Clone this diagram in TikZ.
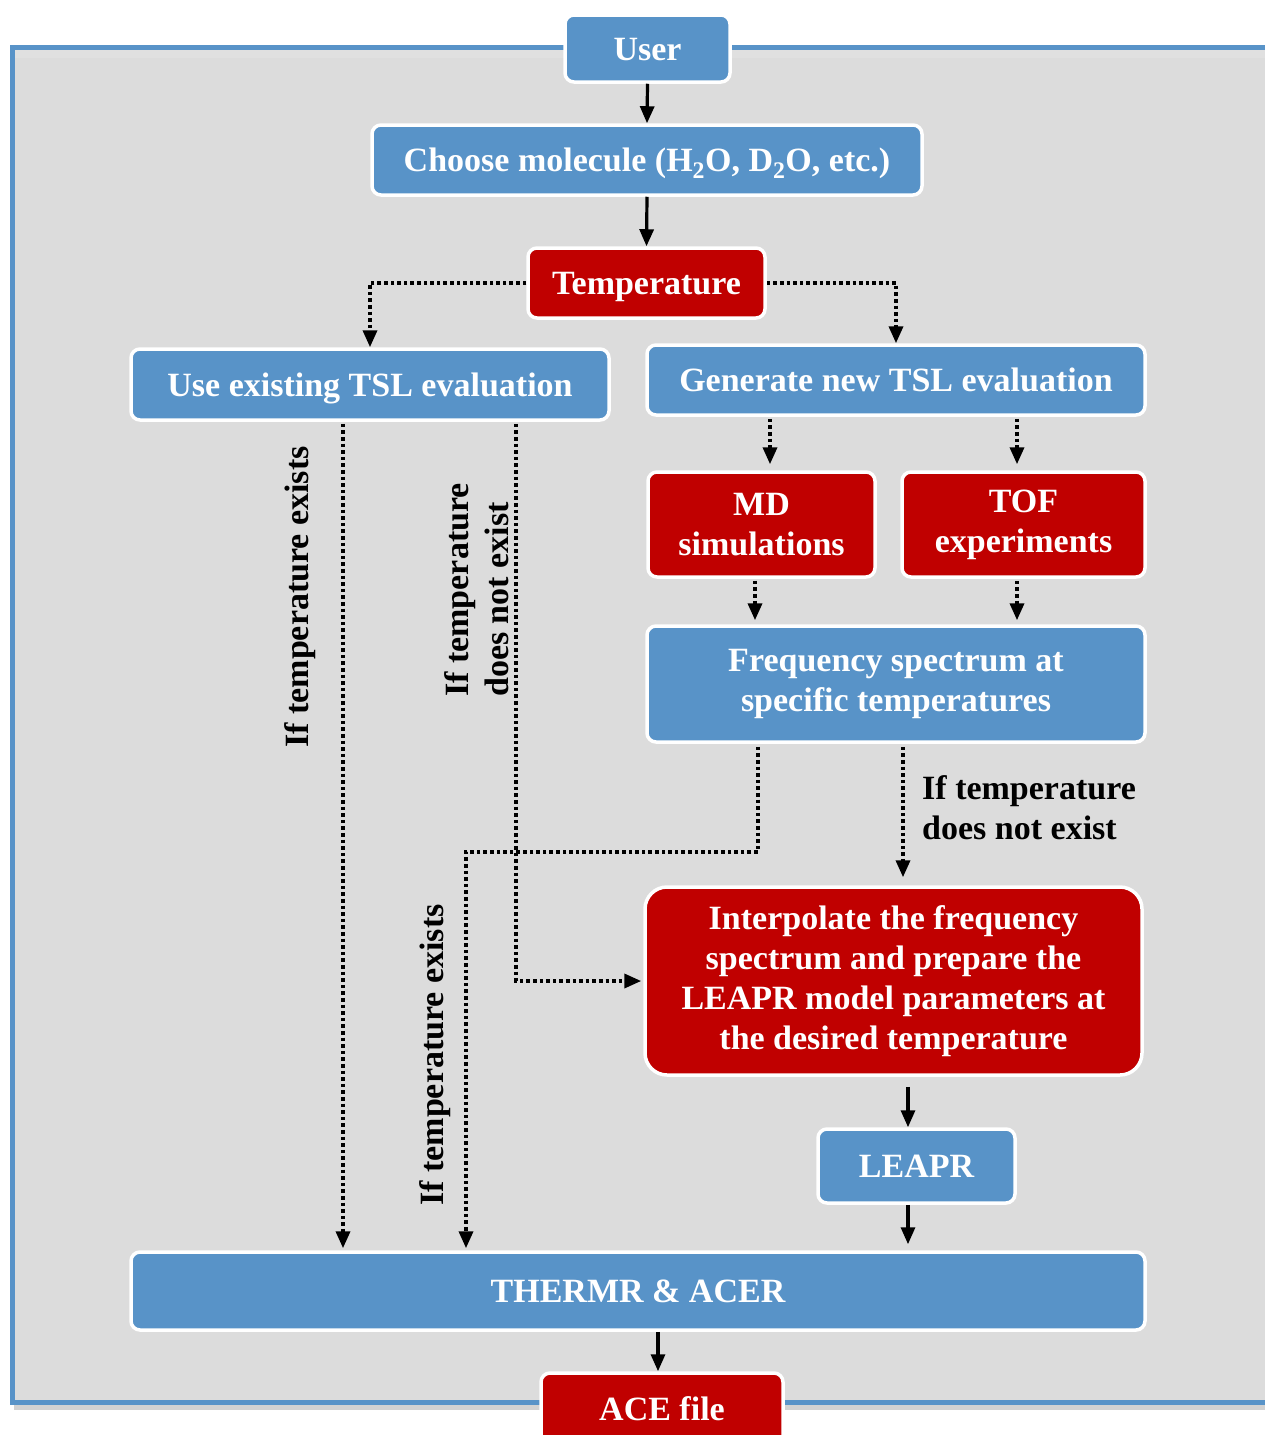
\documentclass[tikz,border=0pt]{standalone}
\usepackage{fontspec}
\setmainfont{Liberation Serif}
\usetikzlibrary{arrows.meta,shadows}
\definecolor{myblue}{RGB}{88,147,200}
\definecolor{myred}{RGB}{192,0,0}
\definecolor{mygray}{RGB}{220,220,220}
\newcommand{\boxfont}{\fontsize{34}{40}\selectfont\bfseries}
\tikzset{
  box/.style={draw=white, line width=3.5pt, rounded corners=9pt, text=white, font=\boxfont, align=center, inner sep=0pt},
  bluebox/.style={box, fill=myblue},
  redbox/.style={box, fill=myred},
  oneline/.style={text height=23pt, text depth=0pt},
  lbl/.style={font=\boxfont, text=black, inner sep=0pt},
  solidarr/.style={line width=3.2pt, -{Triangle[length=17pt,width=14pt]}},
  dotarr/.style={line width=3.6pt, dash pattern=on 3.6pt off 3pt, -{Triangle[length=17pt,width=14pt]}},
}
\begin{document}
\begin{tikzpicture}[x=1pt,y=-1pt]
\useasboundingbox (0,0) rectangle (1265,1435);
\begin{scope}
\clip (0,0) rectangle (1265,1435);
% frame
\fill[black!35, opacity=0.5] (14,50) rectangle (1285,1410);
\draw[draw=myblue, line width=5pt, fill=mygray] (12,47) rectangle (1285,1402);
\fill[black!12] (15,50) rectangle (1285,58);

% nodes
\node[bluebox, oneline, minimum width=165pt, minimum height=67pt] (user) at (647.5,48.5) {User};
\node[bluebox, oneline, minimum width=550pt, minimum height=70pt] (choose) at (647,160) {Choose molecule (H\textsubscript{2}O, D\textsubscript{2}O, etc.)};
\node[redbox, oneline, minimum width=237pt, minimum height=70pt] (temp) at (646.5,283) {Temperature};
\node[bluebox, oneline, minimum width=478pt, minimum height=71pt] (use) at (370,384.5) {Use existing TSL evaluation};
\node[bluebox, oneline, minimum width=498pt, minimum height=70pt] (gen) at (896,380) {Generate new TSL evaluation};
\node[redbox, minimum width=227pt, minimum height=105pt] (md) at (761.5,524.5) {MD\\simulations};
\node[redbox, minimum width=243pt, minimum height=105pt] (tof) at (1023.5,524.5) {TOF\\experiments};
\node[bluebox, minimum width=498pt, minimum height=116pt] (freq) at (896,684) {Frequency spectrum at\\specific temperatures};
\node[redbox, rounded corners=22pt, minimum width=497pt, minimum height=188pt] (interp) at (893.5,981) {Interpolate the frequency\\spectrum and prepare the\\LEAPR model parameters at\\the desired temperature};
\node[bluebox, oneline, minimum width=197pt, minimum height=74pt] (leapr) at (916.5,1166) {LEAPR};
\node[bluebox, oneline, minimum width=1014pt, minimum height=78pt] (thermr) at (638,1291) {THERMR \& ACER};
\node[redbox, oneline, minimum width=242pt, minimum height=72pt] (ace) at (662,1409) {ACE file};

% helper coordinates
\coordinate (c343) at (343,0);
\coordinate (c466) at (466,0);
\coordinate (c516) at (516,0);
\coordinate (c758) at (758,0);
\coordinate (c770) at (770,0);
\coordinate (c755) at (755,0);
\coordinate (c1017) at (1017,0);
\coordinate (c903) at (903,0);
\coordinate (c908) at (908,0);
\coordinate (c658) at (658,0);
\coordinate (bend1) at (758,852);
\coordinate (bend2) at (466,852);

% connectors
\draw[solidarr] (user.south) -- (choose.north);
\draw[solidarr] (choose.south) -- (temp.north);
\draw[dotarr] (temp.west) -| (use.north);
\draw[dotarr] (temp.east) -| (gen.north);
\draw[dotarr] ([yshift=-2pt]gen.south -| c770) -- ([yshift=6pt]md.north -| c770);
\draw[dotarr] ([yshift=-2pt]gen.south -| c1017) -- ([yshift=6pt]tof.north -| c1017);
\draw[dotarr] ([yshift=-2pt]md.south -| c755) -- ([yshift=4pt]freq.north -| c755);
\draw[dotarr] ([yshift=-2pt]tof.south -| c1017) -- ([yshift=4pt]freq.north -| c1017);
\draw[dotarr] ([yshift=-3pt]freq.south -| c903) -- ([yshift=8pt]interp.north -| c903);
\draw[dotarr] ([yshift=-3pt]freq.south -| c758) -- (bend1) -- (bend2) -- ([yshift=2pt]thermr.north -| c466);
\draw[dotarr] ([yshift=-2pt]use.south -| c343) -- ([yshift=2pt]thermr.north -| c343);
\draw[dotarr] ([yshift=-2pt]use.south -| c516) |- ([xshift=-2pt]interp.west);
\draw[solidarr] ([yshift=-10pt]interp.south -| c908) -- (leapr.north -| c908);
\draw[solidarr] (leapr.south -| c908) -- ([yshift=6pt]thermr.north -| c908);
\draw[solidarr] (thermr.south -| c658) -- (ace.north -| c658);

% labels
\node[lbl, rotate=90] (l1) at (300,597) {If temperature exists};
\node[lbl, rotate=90, align=left, anchor=west] (l2) at (477,697) {If temperature\\does not exist};
\node[lbl, align=left, anchor=north west] (l3) at (922,775) {If temperature\\does not exist};
\node[lbl, rotate=90] (l4) at (435,1055) {If temperature exists};
\end{scope}
\end{tikzpicture}
\end{document}
